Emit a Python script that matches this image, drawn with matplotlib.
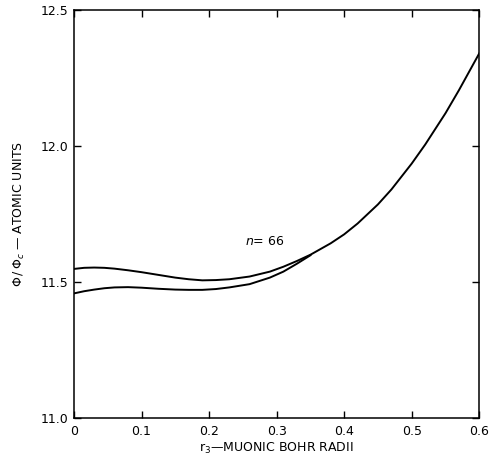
import matplotlib.pyplot as plt
from matplotlib.ticker import MultipleLocator

# upper branch (starts higher at r3 = 0)
r_upper = [0.0, 0.015, 0.03, 0.045, 0.06, 0.08, 0.10, 0.125, 0.15, 0.17,
           0.19, 0.21, 0.23, 0.26, 0.29, 0.31, 0.33, 0.35, 0.38, 0.40, 0.42,
           0.45, 0.47, 0.50, 0.52, 0.55, 0.57, 0.60]
phi_upper = [11.548, 11.552, 11.553, 11.552, 11.549, 11.543, 11.536, 11.526,
             11.516, 11.510, 11.506, 11.507, 11.510, 11.520, 11.538, 11.556,
             11.577, 11.600, 11.642, 11.675, 11.715, 11.785, 11.840, 11.935,
             12.005, 12.120, 12.205, 12.340]

# lower branch, joins the upper one near r3 = 0.35
r_lower = [0.0, 0.015, 0.03, 0.045, 0.06, 0.08, 0.10, 0.125, 0.15, 0.17,
           0.19, 0.21, 0.23, 0.26, 0.29, 0.31, 0.33, 0.35]
phi_lower = [11.458, 11.466, 11.472, 11.477, 11.480, 11.481, 11.479, 11.475,
             11.472, 11.471, 11.471, 11.474, 11.480, 11.492, 11.516, 11.538,
             11.567, 11.598]

fig = plt.figure(figsize=(4.9, 4.71), dpi=100)
ax = fig.add_axes([0.151, 0.1125, 0.827, 0.8665])

ax.plot(r_upper, phi_upper, color='black', lw=1.4)
ax.plot(r_lower, phi_lower, color='black', lw=1.4)

ax.text(0.253, 11.647, r'$\it{n}$= 66', fontsize=9, va='center')

ax.set_xlim(0, 0.6)
ax.set_ylim(11.0, 12.5)
ax.set_xticks([0, 0.1, 0.2, 0.3, 0.4, 0.5, 0.6])
ax.set_xticklabels(['0', '0.1', '0.2', '0.3', '0.4', '0.5', '0.6'])
ax.set_yticks([11.0, 11.5, 12.0, 12.5])
ax.set_yticklabels(['11.0', '11.5', '12.0', '12.5'])
ax.tick_params(direction='in', length=5, width=1, labelsize=9,
               top=True, right=True)
ax.tick_params(axis='x', pad=5)
ax.tick_params(axis='y', pad=4)
for s in ax.spines.values():
    s.set_linewidth(1.1)

ax.set_xlabel(r'r$_3$—MUONIC BOHR RADII', fontsize=9, labelpad=2)
ax.set_ylabel(r'$\Phi\,/\,\Phi_c$ — ATOMIC UNITS', fontsize=9, labelpad=10)

fig.savefig('out.png', dpi=100)
